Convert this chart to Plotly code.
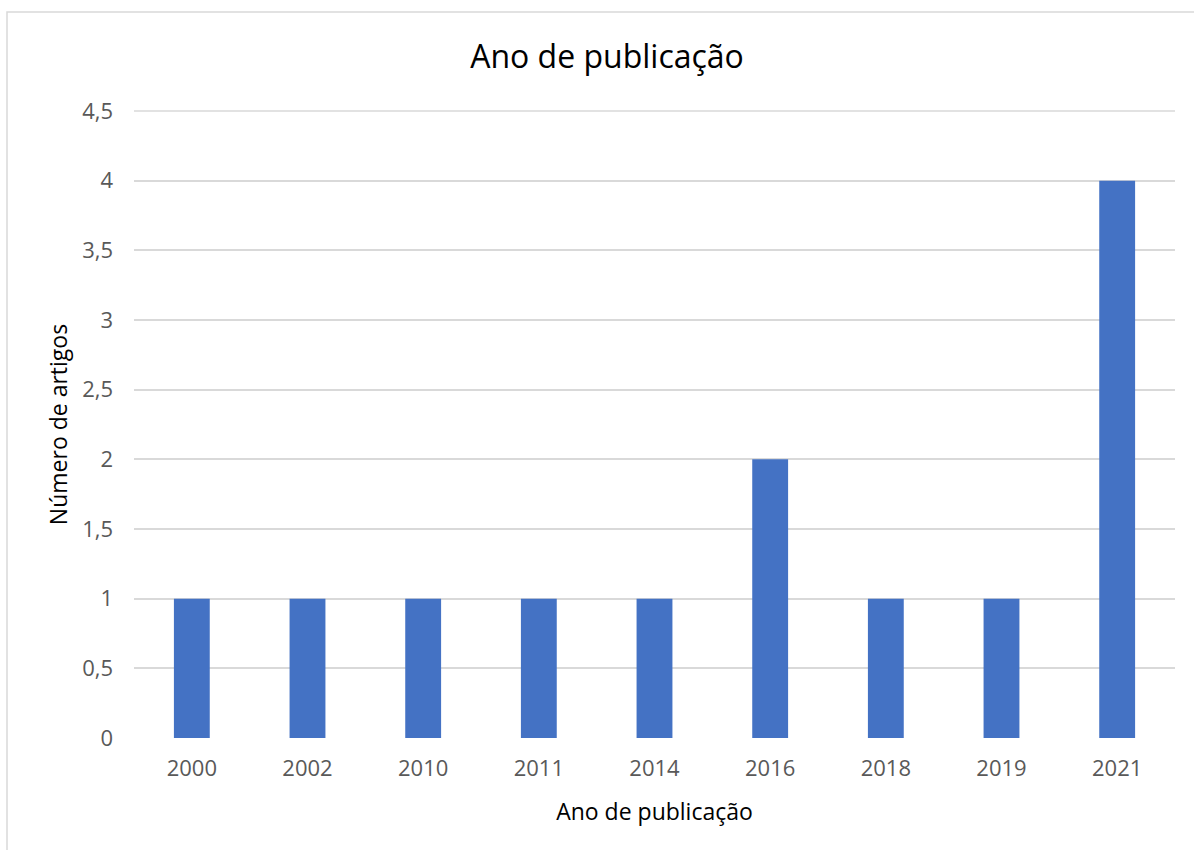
import plotly.graph_objects as go

years = ["2000", "2002", "2010", "2011", "2014", "2016", "2018", "2019", "2021"]
counts = [1, 1, 1, 1, 1, 2, 1, 1, 4]
y_ticks = [0, 0.5, 1, 1.5, 2, 2.5, 3, 3.5, 4, 4.5]
y_tick_text = ["0", "0,5", "1", "1,5", "2", "2,5", "3", "3,5", "4", "4,5"]

FONT = "Open Sans"
GREY = "#595959"

fig = go.Figure(go.Bar(x=years, y=counts, marker=dict(color="#4472C4", line=dict(width=0))))

L, R, T, B = 134, 19, 111, 112
W, H = 1194, 850
pw, ph = W - L - R, H - T - B

fig.update_layout(
    width=W, height=H,
    margin=dict(l=L, r=R, t=T, b=B),
    paper_bgcolor="white", plot_bgcolor="white",
    bargap=0.69,
    showlegend=False,
    title=dict(text="Ano de publicação", x=607 / W, xanchor="center",
               y=1 - 57 / H, yanchor="middle",
               font=dict(family=FONT, size=32, color="#000000")),
    font=dict(family=FONT, size=22, color=GREY),
    xaxis=dict(type="category", showgrid=False, showline=False, ticks="",
               ticklabelstandoff=15,
               tickfont=dict(size=22, color=GREY),
               title=dict(text="Ano de publicação", standoff=22,
                          font=dict(size=23, color="#000000"))),
    yaxis=dict(range=[0, y_ticks[-1]], tickvals=y_ticks, ticktext=y_tick_text,
               showgrid=True, gridcolor="#d9d9d9", gridwidth=1.5,
               zeroline=False, showline=False, ticks="",
               ticklabelstandoff=20,
               tickfont=dict(size=22, color=GREY),
               title=dict(text="Número de artigos", standoff=8,
                          font=dict(size=23, color="#000000"))),
    shapes=[
        dict(type="rect", xref="paper", yref="paper",
             x0=(7 - L) / pw, x1=(W + 10 - L) / pw,
             y0=-(H + 10 - T - ph) / ph, y1=(H - B - 12) / ph,
             line=dict(color="#d9d9d9", width=1.5), fillcolor="rgba(0,0,0,0)",
             layer="below"),
        # top gridline (value 4,5) at the upper edge of the plot area
        dict(type="line", xref="paper", yref="paper", x0=0, x1=1,
             y0=1, y1=1,
             line=dict(color="#d9d9d9", width=1.5), layer="above"),
    ],
)

fig.write_html("out.html")
